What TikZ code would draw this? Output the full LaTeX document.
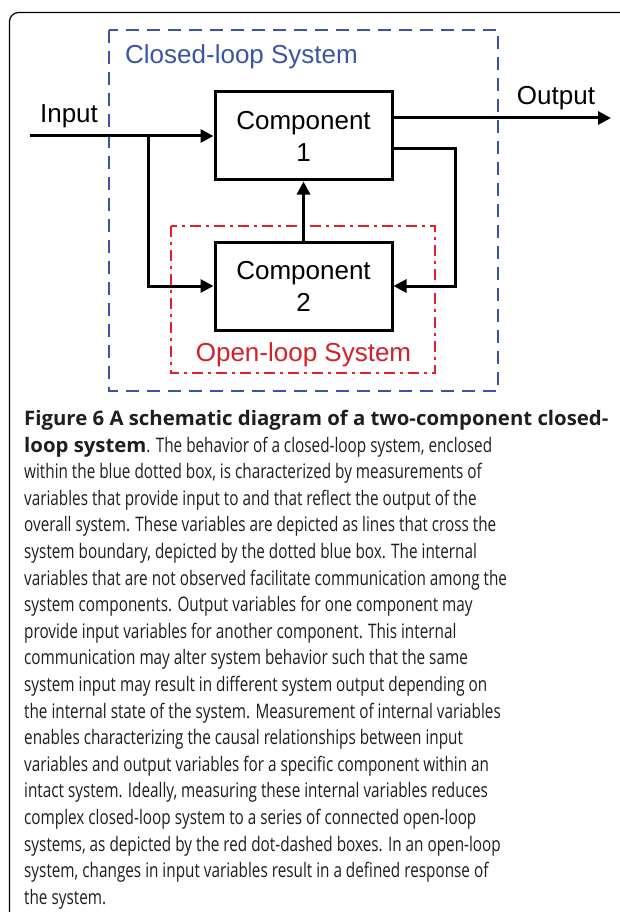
\documentclass[tikz,border=0pt]{standalone}
\usepackage{fontspec}
\setmainfont{Liberation Sans}
\newfontfamily\capfont{Open Sans}
\usetikzlibrary{arrows.meta}
\definecolor{sysblue}{RGB}{59,85,165}
\definecolor{sysred}{RGB}{228,30,42}
\definecolor{sysredtxt}{RGB}{212,32,42}
\definecolor{captxt}{RGB}{30,30,30}
\newcommand\capl[1]{\scalebox{0.765}[1]{#1}}
\newcommand\capb[1]{\scalebox{1.018}[1]{\bfseries #1}}
\tikzset{
  comp/.style={draw, line width=3pt, minimum width=177pt, minimum height=88pt, inner sep=0pt, align=center, font=\fontsize{26}{32}\selectfont},
  conn/.style={line width=3pt, -{Triangle[length=13pt,width=13pt]}},
  lbl/.style={font=\fontsize{26}{31}\selectfont, inner sep=0pt},
  capline/.style={anchor=base west, inner sep=0pt, font=\capfont\fontsize{20}{22}\selectfont, text=captxt},
  bluebox/.style={draw=sysblue, line width=2.7pt, dash pattern=on 13pt off 8pt},
  redbox/.style={draw=sysred, line width=2.5pt, dash pattern=on 11pt off 5pt on 3pt off 5pt}
}
\begin{document}
\begin{tikzpicture}[x=1pt,y=-1pt]
\useasboundingbox (0,0) rectangle (620,912);
% frame
\draw[line width=1.2pt, rounded corners=9pt] (640,12.5) -- (9.5,12.5) -- (9.5,930);
% system boxes
\draw[bluebox] (109,30) rectangle (498,391);
\draw[redbox] (171,226) rectangle (435,373);
% components
\node[comp] (c1) at (303.5,136) {Component\\1};
\node[comp] (c2) at (303.5,286) {Component\\2};
% labels
\node[lbl, text=sysblue, anchor=base west] (cls) at (125,64) {Closed-loop System};
\node[lbl, text=sysredtxt, anchor=base] (ols) at (303.5,361.5) {Open-loop System};
\node[lbl, anchor=base] (inlbl) at (69,122.5) {Input};
\node[lbl, anchor=base] (outlbl) at (556,105) {Output};
% connectors
\coordinate (in) at (30,136);
\coordinate (br) at (148,136);
\coordinate (out) at (611,118);
\draw[conn] (in) -- (c1.west);
\draw[conn] (br) |- (c2.west);
\draw[conn] ([yshift=18pt]c1.east) -- (out);
\draw[conn] ([yshift=-13pt]c1.east) -- ++(62,0) |- (c2.east);
\draw[conn] (c2.north) -- (c1.south);
% caption
\node[capline] (l1) at (24,425.5) {\capb{Figure 6 A schematic diagram of a two-component closed-}};
\node[capline] (l2) at (24,452.1) {\capb{loop system}\capl{. The behavior of a closed-loop system, enclosed}};
\node[capline] (l3) at (24,478.7) {\capl{within the blue dotted box, is characterized by measurements of}};
\node[capline] (l4) at (24,505.3) {\capl{variables that provide input to and that reflect the output of the}};
\node[capline] (l5) at (24,531.9) {\capl{overall system. These variables are depicted as lines that cross the}};
\node[capline] (l6) at (24,558.5) {\capl{system boundary, depicted by the dotted blue box. The internal}};
\node[capline] (l7) at (24,585.1) {\capl{variables that are not observed facilitate communication among the}};
\node[capline] (l8) at (24,611.7) {\capl{system components. Output variables for one component may}};
\node[capline] (l9) at (24,638.3) {\capl{provide input variables for another component. This internal}};
\node[capline] (l10) at (24,664.9) {\capl{communication may alter system behavior such that the same}};
\node[capline] (l11) at (24,691.5) {\capl{system input may result in different system output depending on}};
\node[capline] (l12) at (24,718.1) {\capl{the internal state of the system. Measurement of internal variables}};
\node[capline] (l13) at (24,744.7) {\capl{enables characterizing the causal relationships between input}};
\node[capline] (l14) at (24,771.3) {\capl{variables and output variables for a specific component within an}};
\node[capline] (l15) at (24,797.9) {\capl{intact system. Ideally, measuring these internal variables reduces}};
\node[capline] (l16) at (24,824.5) {\capl{complex closed-loop system to a series of connected open-loop}};
\node[capline] (l17) at (24,851.1) {\capl{systems, as depicted by the red dot-dashed boxes. In an open-loop}};
\node[capline] (l18) at (24,877.7) {\capl{system, changes in input variables result in a defined response of}};
\node[capline] (l19) at (24,904.3) {\capl{the system.}};
\end{tikzpicture}
\end{document}
